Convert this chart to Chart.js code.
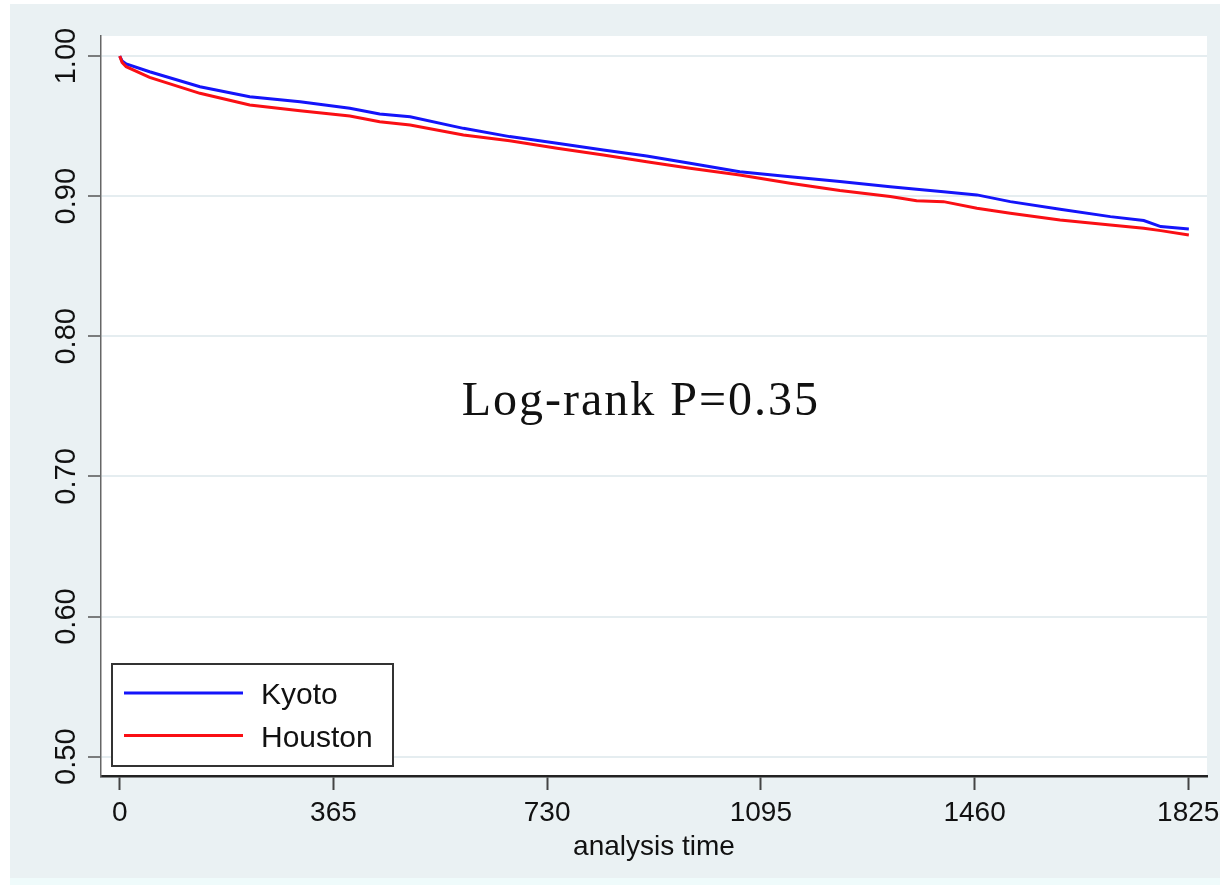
<!DOCTYPE html>
<html>
<head>
<meta charset="utf-8">
<title>Kaplan-Meier survival: Kyoto vs Houston</title>
<script src="https://cdn.jsdelivr.net/npm/chart.js@4.4.1/dist/chart.umd.min.js"></script>
<style>
  html, body { margin: 0; padding: 0; background: #ffffff; }
  #wrap { width: 1220px; height: 885px; }
</style>
</head>
<body>
<div id="wrap"><canvas id="km" width="1220" height="885"></canvas></div>
<script>
// Survival estimates (days since start, survival probability)
const kyotoTime = [0, 4, 11, 51, 137, 222, 308, 393, 444, 496, 587, 666, 747, 826, 900, 974, 1059, 1145, 1230, 1316, 1361, 1407, 1464, 1521, 1606, 1692, 1749, 1778, 1826];
const kyotoSurv = [1.000, 0.9965, 0.9943, 0.9888, 0.9781, 0.9710, 0.9674, 0.9627, 0.9586, 0.9567, 0.9484, 0.9425, 0.9377, 0.9330, 0.9287, 0.9235, 0.9175, 0.9139, 0.9104, 0.9068, 0.9050, 0.9032, 0.9009, 0.8961, 0.8907, 0.8854, 0.8826, 0.8783, 0.8766];

const houstonTime = [0, 4, 11, 51, 137, 222, 308, 393, 444, 496, 587, 666, 747, 826, 900, 974, 1059, 1145, 1230, 1316, 1361, 1407, 1464, 1521, 1606, 1692, 1749, 1778, 1826];
const houstonSurv = [1.000, 0.9955, 0.9924, 0.9848, 0.9734, 0.9651, 0.9610, 0.9572, 0.9531, 0.9508, 0.9437, 0.9396, 0.9342, 0.9294, 0.9246, 0.9199, 0.9151, 0.9092, 0.9040, 0.8997, 0.8968, 0.8961, 0.8914, 0.8878, 0.8830, 0.8795, 0.8771, 0.8754, 0.8723];

const seriesNames = ['Kyoto', 'Houston'];

const xTicks = [0, 365, 730, 1095, 1460, 1825];
const xTickLabels = ['0', '365', '730', '1095', '1460', '1825'];
const yTicks = [0.5, 0.6, 0.7, 0.8, 0.9, 1.0];
const yTickLabels = ['0.50', '0.60', '0.70', '0.80', '0.90', '1.00'];

const xTitle = 'analysis time';
const testLabel = 'Log-rank P=0.35';
const testAt = { x: 890, y: 0.744 };

const toPoints = (ts, ss) => ts.map((t, i) => ({ x: t, y: ss[i] }));

const SANS = '"Liberation Sans", Arial, sans-serif';

// Page and plot-region backgrounds
const backdrop = {
  id: 'backdrop',
  beforeDraw(chart) {
    const { ctx, width, height, chartArea: a } = chart;
    ctx.save();
    ctx.fillStyle = '#ffffff';
    ctx.fillRect(0, 0, width, height);
    ctx.fillStyle = '#eaf1f3';
    ctx.fillRect(10, 4, width - 10, 874);
    ctx.fillStyle = '#effbfb';
    ctx.fillRect(10, 878, width - 10, height - 878);
    ctx.fillStyle = '#ffffff';
    ctx.fillRect(a.left, a.top, a.right - a.left, a.bottom - a.top);
    ctx.restore();
  }
};

// Vertical tick labels on the survival axis
const yLabels = {
  id: 'yLabels',
  afterDraw(chart) {
    const { ctx } = chart;
    const y = chart.scales.y;
    ctx.save();
    ctx.fillStyle = '#111111';
    ctx.font = '29px ' + SANS;
    ctx.textAlign = 'center';
    ctx.textBaseline = 'alphabetic';
    yTicks.forEach((v, i) => {
      const py = y.getPixelForValue(v);
      ctx.save();
      ctx.translate(y.left + 75, py);
      ctx.rotate(-Math.PI / 2);
      ctx.fillText(yTickLabels[i], 0, 0);
      ctx.restore();
    });
    ctx.restore();
  }
};

// Boxed legend in the lower-left corner of the plot region
const boxLegend = {
  id: 'boxLegend',
  afterDraw(chart) {
    const { ctx, chartArea: a } = chart;
    const bx = a.left + 11, bw = 281, bh = 102;
    const by = a.bottom - 10 - bh;
    ctx.save();
    ctx.fillStyle = '#ffffff';
    ctx.fillRect(bx, by, bw, bh);
    ctx.strokeStyle = '#333333';
    ctx.lineWidth = 2;
    ctx.strokeRect(bx, by, bw, bh);
    ctx.font = '30px ' + SANS;
    ctx.textAlign = 'left';
    ctx.textBaseline = 'alphabetic';
    chart.data.datasets.forEach((ds, i) => {
      const ly = by + 29 + i * 42.5;
      ctx.strokeStyle = ds.borderColor;
      ctx.lineWidth = 3;
      ctx.beginPath();
      ctx.moveTo(bx + 12, ly);
      ctx.lineTo(bx + 131, ly);
      ctx.stroke();
      ctx.fillStyle = '#111111';
      ctx.fillText(ds.label, bx + 149, ly + 11);
    });
    ctx.restore();
  }
};

// Log-rank test result inside the plot
const testNote = {
  id: 'testNote',
  afterDraw(chart) {
    const { ctx } = chart;
    const px = chart.scales.x.getPixelForValue(testAt.x);
    const py = chart.scales.y.getPixelForValue(testAt.y);
    ctx.save();
    ctx.fillStyle = '#111111';
    ctx.font = '48px "Liberation Serif", "Times New Roman", serif';
    ctx.letterSpacing = '2px';
    ctx.textAlign = 'center';
    ctx.textBaseline = 'alphabetic';
    ctx.fillText(testLabel, px, py);
    ctx.restore();
  }
};

new Chart(document.getElementById('km'), {
  type: 'line',
  data: {
    datasets: [
      {
        label: seriesNames[0],
        data: toPoints(kyotoTime, kyotoSurv),
        borderColor: 'rgb(20, 20, 250)',
        borderWidth: 3,
        pointRadius: 0,
        tension: 0,
        fill: false,
        order: 1
      },
      {
        label: seriesNames[1],
        data: toPoints(houstonTime, houstonSurv),
        borderColor: 'rgb(250, 15, 20)',
        borderWidth: 3,
        pointRadius: 0,
        tension: 0,
        fill: false,
        order: 0
      }
    ]
  },
  options: {
    responsive: false,
    animation: false,
    devicePixelRatio: 1,
    layout: { padding: { left: 0, top: 36, right: 13, bottom: 0 } },
    plugins: {
      legend: { display: false },
      tooltip: { enabled: false }
    },
    scales: {
      x: {
        type: 'linear',
        min: -32,
        max: 1857,
        afterBuildTicks: s => { s.ticks = xTicks.map(v => ({ value: v })); },
        afterFit: s => { s.height = 109; s.paddingLeft = 0; s.paddingRight = 0; },
        ticks: {
          autoSkip: false,
          maxRotation: 0,
          minRotation: 0,
          padding: 6,
          color: '#111111',
          font: { family: SANS, size: 28 },
          callback: (v, i) => xTickLabels[i]
        },
        grid: {
          drawOnChartArea: false,
          drawTicks: true,
          tickLength: 14,
          tickColor: '#444444',
          tickWidth: 2
        },
        border: { display: true, color: '#222222', width: 2.5 },
        title: {
          display: true,
          text: xTitle,
          color: '#111111',
          font: { family: SANS, size: 28 },
          padding: { top: 0, bottom: 21 }
        }
      },
      y: {
        type: 'linear',
        min: 0.4862,
        max: 1.0143,
        afterBuildTicks: s => { s.ticks = yTicks.map(v => ({ value: v })); },
        afterFit: s => { s.width = 101; s.paddingTop = 0; s.paddingBottom = 0; },
        ticks: { display: false },
        grid: {
          drawOnChartArea: true,
          drawTicks: true,
          tickLength: 13,
          color: '#e5edf0',
          lineWidth: 2,
          tickColor: '#555555',
          tickWidth: 1.5
        },
        border: { display: true, color: '#666666', width: 1.5 }
      }
    }
  },
  plugins: [backdrop, yLabels, boxLegend, testNote]
});
</script>
</body>
</html>
